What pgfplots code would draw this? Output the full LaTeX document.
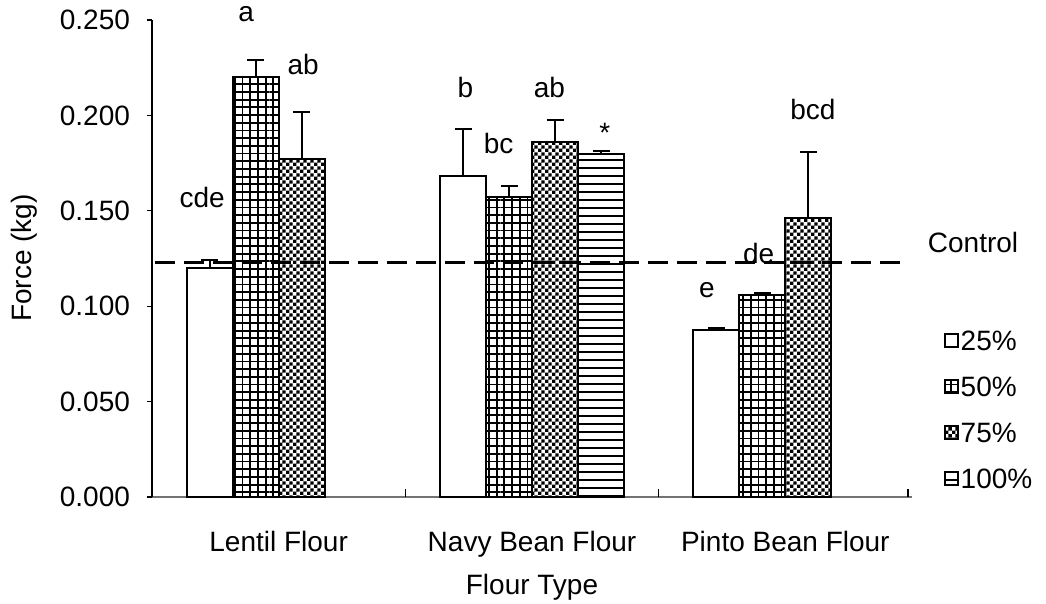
\documentclass[border=0pt]{standalone}
\usepackage{fontspec}
\setmainfont{Liberation Sans}
\usepackage{pgfplots}
\pgfplotsset{compat=1.18}
\usetikzlibrary{patterns}

% fill patterns for the bars
\pgfdeclarepatternformonly{squaregrid}{\pgfqpoint{-0.1pt}{-0.1pt}}{\pgfqpoint{3.95pt}{3.95pt}}{\pgfqpoint{3.85pt}{3.85pt}}{%
  \pgfsetlinewidth{0.9pt}%
  \pgfpathmoveto{\pgfqpoint{0pt}{1.9pt}}\pgfpathlineto{\pgfqpoint{3.85pt}{1.9pt}}%
  \pgfpathmoveto{\pgfqpoint{1.9pt}{0pt}}\pgfpathlineto{\pgfqpoint{1.9pt}{3.85pt}}%
  \pgfusepath{stroke}}
\pgfdeclarepatternformonly{checker}{\pgfpointorigin}{\pgfqpoint{3.4pt}{3.4pt}}{\pgfqpoint{3.4pt}{3.4pt}}{%
  \pgfpathrectangle{\pgfpointorigin}{\pgfqpoint{1.7pt}{1.7pt}}%
  \pgfpathrectangle{\pgfqpoint{1.7pt}{1.7pt}}{\pgfqpoint{1.7pt}{1.7pt}}%
  \pgfusepath{fill}}
\pgfdeclarepatternformonly{hstripes}{\pgfqpoint{-0.1pt}{-0.1pt}}{\pgfqpoint{1.1pt}{4.1pt}}{\pgfqpoint{1pt}{4pt}}{%
  \pgfsetlinewidth{0.8pt}%
  \pgfpathmoveto{\pgfqpoint{-0.1pt}{2pt}}\pgfpathlineto{\pgfqpoint{1.1pt}{2pt}}%
  \pgfusepath{stroke}}

\begin{document}
\begin{tikzpicture}[font=\fontsize{14}{17}\selectfont]
\useasboundingbox (0,0) rectangle (523pt,302pt);
\begin{axis}[
  at={(76pt,53.5pt)}, anchor=south west,
  scale only axis, width=380pt, height=238.5pt,
  ybar, bar width=23pt,
  xmin=0, xmax=3, ymin=0, ymax=0.25,
  clip=false,
  axis x line*=bottom, axis y line*=left,
  x axis line style={-, draw=black!55, line width=0.8pt},
  y axis line style={-, draw=black, line width=0.8pt},
  xtick={0.5,1.5,2.5},
  xticklabels={Lentil Flour, Navy Bean Flour, Pinto Bean Flour},
  x tick style={draw=none},
  x tick label style={yshift=-11pt},
  ytick={0,0.05,0.1,0.15,0.2,0.25},
  y tick style={black, line width=0.6pt},
  tick align=outside, major tick length=2.5pt,
  scaled y ticks=false,
  yticklabel style={xshift=-5pt,
    /pgf/number format/fixed, /pgf/number format/fixed zerofill,
    /pgf/number format/precision=3, /pgf/number format/assume math mode=true},
  xlabel={Flour Type}, ylabel={Force (kg)},
  every axis x label/.style={at={(axis description cs:0.5,-0.19)}, anchor=center},
  every axis y label/.style={at={(axis description cs:-0.1684,0.501)}, rotate=90, anchor=center},
  legend style={at={(axis description cs:1.042,0.354)}, anchor=north west,
    draw=none, fill=none, inner sep=0pt, row sep=11pt,
    nodes={inner sep=1pt, text height=10pt, text depth=0pt}},
  legend cell align=left,
  legend image code/.code={\draw[#1, line width=0.7pt] (0pt,-3.25pt) rectangle (6.5pt,3.25pt);},
  error bars/y dir=plus, error bars/y explicit,
  error bars/error mark=-,
  error bars/error bar style={black, line width=1pt},
  error bars/error mark options={black, line width=1pt, mark size=4.25pt, rotate=90},
]
% 25 %
\addplot[draw=black, line width=1pt, fill=white, bar shift=-34.5pt]
  coordinates {(0.5,0.120) +- (0,0.004) (1.5,0.168) +- (0,0.025) (2.5,0.0875) +- (0,0.0013)};
% 50 %
\addplot[draw=black, line width=1pt, fill=white, postaction={pattern=squaregrid}, bar shift=-11.5pt]
  coordinates {(0.5,0.220) +- (0,0.009) (1.5,0.157) +- (0,0.006) (2.5,0.106) +- (0,0.001)};
% 75 %
\addplot[draw=black, line width=1pt, fill=white, postaction={pattern=checker}, bar shift=11.5pt]
  coordinates {(0.5,0.177) +- (0,0.025) (1.5,0.186) +- (0,0.0115) (2.5,0.146) +- (0,0.035)};
% 100 %
\addplot[draw=black, line width=1pt, fill=white, postaction={pattern=hstripes}, bar shift=34.5pt]
  coordinates {(1.5,0.180) +- (0,0.0012)};
\legend{25\%, 50\%, 75\%, 100\%}

% control level
\addplot[sharp plot, no marks, black, line width=1.6pt, dash pattern=on 10pt off 4.5pt, forget plot]
  coordinates {(0.012,0.123) (2.96,0.123)};

% group separators on the category axis
\draw[black, line width=0.8pt] (axis cs:1,0) -- ++(0,4pt);
\draw[black, line width=0.8pt] (axis cs:2,0) -- ++(0,4pt);
\draw[black, line width=0.8pt] (axis cs:2.985,0) -- ++(0,4pt);

% significance letters
\node[anchor=base] at (axis cs:0.198,0.1515) {cde};
\node[anchor=base] at (axis cs:0.3715,0.249) {a};
\node[anchor=base] at (axis cs:0.597,0.2212) {ab};
\node[anchor=base] at (axis cs:1.237,0.2096) {b};
\node[anchor=base] at (axis cs:1.368,0.1798) {bc};
\node[anchor=base] at (axis cs:1.569,0.2096) {ab};
\node[anchor=base] at (axis cs:1.787,0.186) {*};
\node[anchor=base] at (axis cs:2.190,0.1048) {e};
\node[anchor=base] at (axis cs:2.395,0.1226) {de};
\node[anchor=base] at (axis cs:2.609,0.1981) {bcd};
\node[anchor=base] at (axis cs:3.241,0.1279) {Control};
\end{axis}
\end{tikzpicture}
\end{document}
